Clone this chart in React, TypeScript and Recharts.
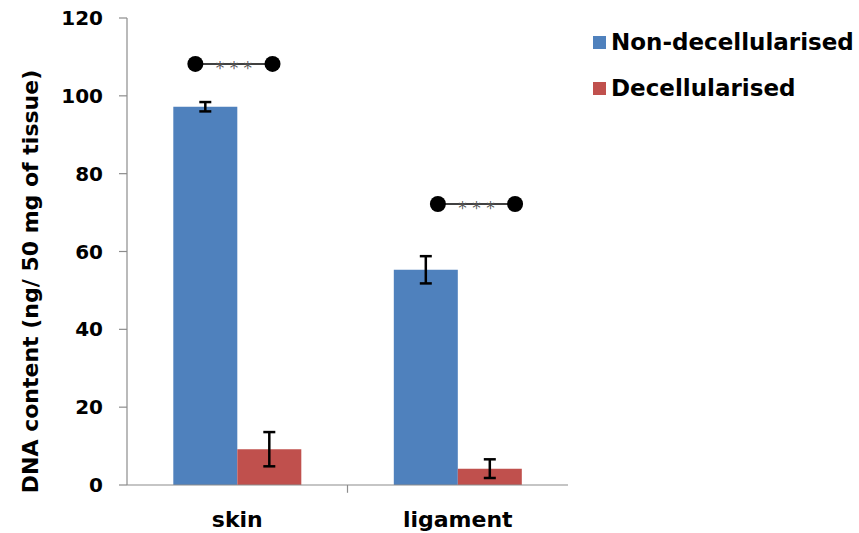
import React from 'react';
import {
  BarChart, Bar, XAxis, YAxis, ErrorBar, Legend, ReferenceLine, ReferenceDot, Label,
} from 'recharts';

const categories = ['skin', 'ligament'];
const nonDecellularised = [97.2, 55.3];
const nonDecellularisedErr = [1.2, 3.5];
const decellularised = [9.2, 4.2];
const decellularisedErr = [4.4, 2.4];
const yTicks = [0, 20, 40, 60, 80, 100, 120];

// significance brackets ("***") drawn on a hidden numeric x-axis spanning the two categories [0, 2]
const sigY = [108.2, 72.2];
const sigStart = [0.31, 1.41];
const sigEnd = [0.66, 1.76];
const sigText = '* * *';

const seriesNames = ['Non-decellularised', 'Decellularised'];
const seriesColors = ['#4F81BD', '#C0504D'];

const data = categories.map((c, i) => ({
  name: c,
  pos: i + 0.5,
  nonDecell: nonDecellularised[i],
  nonDecellErr: nonDecellularisedErr[i],
  decell: decellularised[i],
  decellErr: decellularisedErr[i],
}));

const FONT = '"DejaVu Sans", sans-serif';

const renderLegend = () => (
  <div style={{ fontFamily: FONT, fontWeight: 'bold', fontSize: 23, color: '#000' }}>
    {seriesNames.map((n, i) => (
      <div key={n} style={{ display: 'flex', alignItems: 'center', height: 46 }}>
        <span style={{ display: 'inline-block', width: 13, height: 13, background: seriesColors[i], marginRight: 5 }} />
        <span>{n}</span>
      </div>
    ))}
  </div>
);

const YLabel = (props: any) => {
  const vb = props.viewBox || {};
  const cx = vb.x - 37;
  const cy = vb.y + vb.height / 2 + 30;
  return (
    <text
      x={cx}
      y={cy}
      transform={`rotate(-90, ${cx}, ${cy})`}
      textAnchor="middle"
      dominantBaseline="central"
      fontFamily={FONT}
      fontWeight="bold"
      fontSize={22}
      fill="#000"
    >
      DNA content (ng/ 50 mg of tissue)
    </text>
  );
};

export default function App() {
  return (
    <div style={{ position: 'absolute', left: 0, top: 0, background: '#fff' }}>
      <BarChart
        width={859}
        height={533}
        data={data}
        margin={{ top: 18, right: 291, left: 67, bottom: 18 }}
        barCategoryGap="21%"
        barGap={0}
      >
        <XAxis
          dataKey="name"
          height={30}
          tickLine={false}
          axisLine={{ stroke: '#8c8c8c', strokeWidth: 1.2 }}
          tick={{ fontFamily: FONT, fontWeight: 'bold', fontSize: 22, fill: '#000' }}
          tickMargin={20}
        />
        <XAxis xAxisId="num" dataKey="pos" type="number" domain={[0, 2]} allowDataOverflow hide />
        <YAxis
          width={60}
          domain={[0, 120]}
          ticks={yTicks}
          interval={0}
          tickSize={8}
          tickMargin={16}
          axisLine={{ stroke: '#8c8c8c', strokeWidth: 1.2 }}
          tickLine={{ stroke: '#8c8c8c', strokeWidth: 1.2 }}
          tick={{ fontFamily: FONT, fontWeight: 'bold', fontSize: 20, fill: '#000' }}
        >
          <Label content={<YLabel />} />
        </YAxis>
        <Legend
          layout="horizontal"
          verticalAlign="middle"
          align="center"
          content={renderLegend}
          wrapperStyle={{ left: 593, top: 19, width: 266 }}
        />
        <Bar dataKey="nonDecell" fill={seriesColors[0]} isAnimationActive={false}>
          <ErrorBar dataKey="nonDecellErr" width={6} stroke="#000" strokeWidth={2.5} />
        </Bar>
        <Bar dataKey="decell" fill={seriesColors[1]} isAnimationActive={false}>
          <ErrorBar dataKey="decellErr" width={6} stroke="#000" strokeWidth={2.5} />
        </Bar>
        <ReferenceLine
          xAxisId="num"
          segment={[{ x: 1, y: 0 }, { x: 1, y: -2 }]}
          stroke="#8c8c8c"
          strokeWidth={1.2}
          ifOverflow="visible"
        />
        {sigY.map((y, i) => (
          <ReferenceLine
            key={`sl${i}`}
            xAxisId="num"
            segment={[{ x: sigStart[i], y }, { x: sigEnd[i], y }]}
            stroke="#000"
            strokeWidth={1.5}
            label={{ value: sigText, position: 'center', fill: '#555', fontSize: 17, fontFamily: FONT, dy: 4 }}
          />
        ))}
        {sigY.map((y, i) => (
          <ReferenceDot key={`sa${i}`} xAxisId="num" x={sigStart[i]} y={y} r={8} fill="#000" stroke="none" />
        ))}
        {sigY.map((y, i) => (
          <ReferenceDot key={`sb${i}`} xAxisId="num" x={sigEnd[i]} y={y} r={8} fill="#000" stroke="none" />
        ))}
      </BarChart>
    </div>
  );
}
